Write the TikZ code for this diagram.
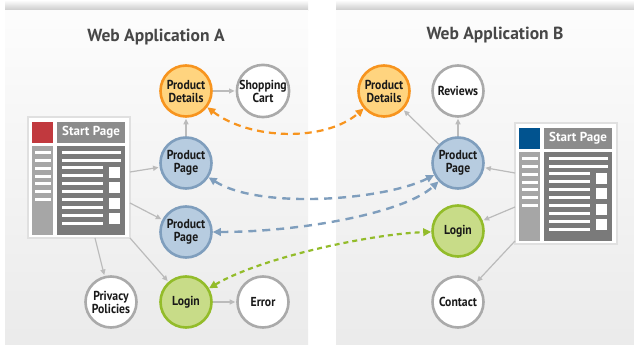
\documentclass[tikz,border=0pt]{standalone}
\usepackage{fontspec}
\setmainfont{PT Sans}
\newfontfamily\lblfont[FakeStretch=0.9]{PT Sans}
\usetikzlibrary{arrows.meta}
\definecolor{orB}{HTML}{F7941E}
\definecolor{orF}{HTML}{FFD47F}
\definecolor{blB}{HTML}{7F9EBD}
\definecolor{blF}{HTML}{B7CCE0}
\definecolor{grB}{HTML}{93BC2A}
\definecolor{grF}{HTML}{C8DC88}
\definecolor{gyB}{HTML}{AAAAAA}
\definecolor{arr}{HTML}{BBBBBB}
\definecolor{sqR}{HTML}{C1393E}
\definecolor{sqB}{HTML}{01538F}
\tikzset{
  circ/.style={circle, minimum size=51pt, inner sep=0pt, line width=2.6pt, align=center,
    font=\lblfont\bfseries\fontsize{13}{13}\selectfont, text=black!90},
  corange/.style={circ, draw=orB, fill=orF},
  cblue/.style={circ, draw=blB, fill=blF},
  cgreen/.style={circ, draw=grB, fill=grF},
  cgray/.style={circ, draw=gyB, fill=white},
  garrow/.style={draw=arr, line width=1.2pt, -{Triangle[length=5.5pt,width=5pt]}, shorten >=1pt},
  dtip/.style={{Triangle[length=8pt,width=7.5pt]}-{Triangle[length=8pt,width=7.5pt]}},
  dorange/.style={draw=orB, line width=2.2pt, dash pattern=on 7pt off 5pt, dtip},
  dblue/.style={draw=blB, line width=2.4pt, dash pattern=on 8pt off 6pt, dtip},
  dgreen/.style={draw=grB, line width=2.2pt, dash pattern=on 5pt off 4pt, dtip},
  title/.style={font=\bfseries\fontsize{17.5}{20}\selectfont, text=black!72},
  pics/startpage/.style={code={
    \draw[draw=black!12, line width=1.5pt, fill=white] (0,0) rectangle (102,121);
    \fill[#1] (4,95) rectangle (25,116);
    \fill[black!45] (29,95) rectangle (97,116);
    \node[font=\bfseries\fontsize{13}{14}\selectfont, text=white] (lab) at (63,105.5) {Start Page};
    \fill[black!35] (4,3) rectangle (25,92);
    \fill[black!52] (29,3) rectangle (97,92);
    \foreach \i in {0,...,6} {\fill[white] (7,85-7.67*\i-1.5) rectangle (23,85-7.67*\i+1.5);}
    \foreach \yy in {85,77} {\fill[white] (34,\yy-1.5) rectangle (93,\yy+1.5);}
    \foreach \i in {0,...,7} {\fill[white] (34,70-7.86*\i-1.5) rectangle (75,70-7.86*\i+1.5);}
    \foreach \i in {0,...,3} {\fill[white] (81,60-15.3*\i) rectangle (92,71-15.3*\i);}
  }}
}
\begin{document}
\begin{tikzpicture}[x=1pt,y=1pt]
\useasboundingbox (0,0) rectangle (634,345);
% panels
\shade[top color=white, bottom color=black!22] (5,334) rectangle (308,345);
\shade[top color=white, bottom color=black!22] (336,334) rectangle (634,345);
\shade[top color=black!1, bottom color=black!8] (5,0) rectangle (308,334);
\shade[top color=black!1, bottom color=black!8] (336,0) rectangle (634,334);
\node[title] (tA) at (156,308) {Web Application A};
\node[title] (tB) at (495,310) {Web Application B};
% start pages
\pic (spA) at (28,107) {startpage=sqR};
\pic (spB) at (515,101) {startpage=sqB};
% nodes A
\node[corange] (pdA) at (186,254) {Product\\Details};
\node[cgray] (cart) at (263,254) {Shopping\\Cart};
\node[cblue] (ppA1) at (186,182) {Product\\Page};
\node[cblue] (ppA2) at (186,113) {Product\\Page};
\node[cgreen] (loginA) at (186,43) {Login};
\node[cgray] (error) at (263,43) {Error};
\node[cgray] (privacy) at (111,43) {Privacy\\Policies};
% nodes B
\node[corange] (pdB) at (384,254) {Product\\Details};
\node[cgray] (reviews) at (458,254) {Reviews};
\node[cblue] (ppB) at (458,182) {Product\\Page};
\node[cgreen] (loginB) at (458,114) {Login};
\node[cgray] (contact) at (458,43) {Contact};
% start points
\coordinate (sa1) at (130,173);
\coordinate (sa2) at (130,142);
\coordinate (sa3) at (95,107);
\coordinate (sa4) at (130,107);
\coordinate (sb1) at (515,172);
\coordinate (sb2) at (515,138);
\coordinate (sb3) at (515,104);
% gray arrows
\draw[garrow] (sa1) -- (ppA1);
\draw[garrow] (sa2) -- (ppA2);
\draw[garrow] (sa3) -- (privacy);
\draw[garrow] (sa4) -- (loginA);
\draw[garrow] (ppA1) -- (pdA);
\draw[garrow] (pdA) -- (cart);
\draw[garrow] (loginA) -- (error);
\draw[garrow] (sb1) -- (ppB);
\draw[garrow] (sb2) -- (loginB);
\draw[garrow] (sb3) -- (contact);
\draw[garrow] (ppB) -- (pdB);
\draw[garrow] (ppB) -- (reviews);
% dashed cross links
\draw[dorange] (pdA) .. controls (250,205) and (325,203) .. (pdB);
\draw[dblue] (ppA1) .. controls (260,135) and (385,145) .. (ppB);
\draw[dblue] (ppA2) .. controls (300,113) and (405,132) .. (ppB);
\draw[dgreen] (loginA) .. controls (260,87) and (370,111) .. (loginB);
\end{tikzpicture}
\end{document}
